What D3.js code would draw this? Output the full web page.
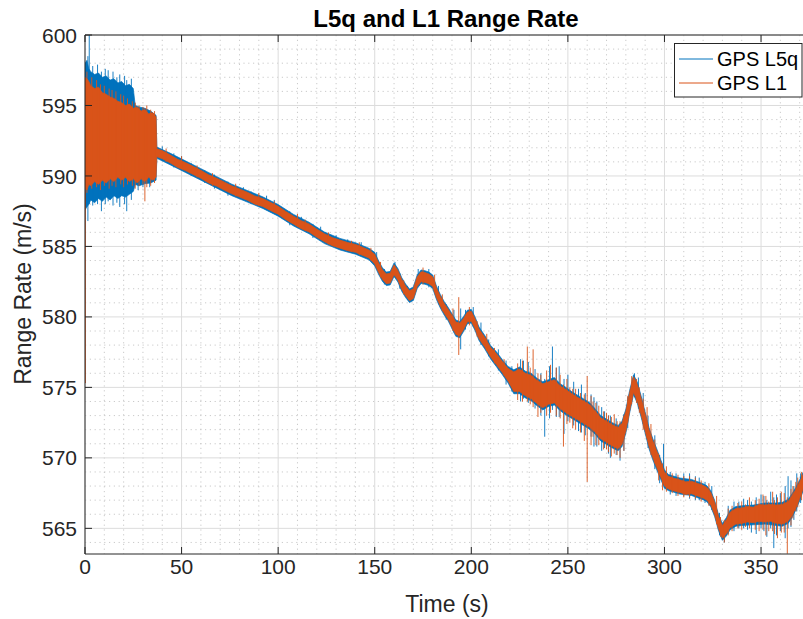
<!DOCTYPE html>
<html>
<head>
<meta charset="utf-8">
<script src="https://cdn.jsdelivr.net/npm/d3@7"></script>
<style>
  html, body { margin: 0; padding: 0; background: #fff; }
  svg { display: block; font-family: "Liberation Sans", Arial, Helvetica, sans-serif; }
</style>
</head>
<body>
<script>
// ---------------- data ----------------
const title = "L5q and L1 Range Rate";
const xLabel = "Time (s)";
const yLabel = "Range Rate (m/s)";
const seriesNames = ["GPS L5q", "GPS L1"];
const xTicks = [0, 50, 100, 150, 200, 250, 300, 350];
const yTicks = [565, 570, 575, 580, 585, 590, 595, 600];

// noise envelope of GPS L5q: [time s, low m/s, high m/s]
const l5qBand = [
  [0, 587.6, 598.0], [1, 587.8, 598.2], [2, 588.0, 597.6], [3, 588.3, 597.4], [5, 588.1, 597.2],
  [7, 588.4, 597.3], [9, 588.2, 597.0], [11, 588.5, 597.1], [13, 588.3, 596.8], [15, 588.6, 596.9],
  [17, 588.4, 596.6], [19, 588.6, 596.7], [21, 588.5, 596.4], [23, 588.7, 596.5], [25, 588.9, 596.2],
  [26, 589.4, 595.0], [28, 589.3, 594.9], [31, 589.45, 594.8], [34, 589.5, 594.6], [36.8, 589.7, 594.3],
  [37.2, 591.25, 592.05], [44, 590.80, 591.62], [52, 590.25, 591.07], [60, 589.70, 590.52], [68, 589.15, 589.97],
  [76, 588.60, 589.42], [84, 588.15, 588.97], [92, 587.70, 588.52], [100, 587.15, 587.97], [108, 586.45, 587.27],
  [116, 585.90, 586.72], [124, 585.20, 586.02], [132, 584.75, 585.57], [140, 584.45, 585.27], [147, 584.05, 584.87],
  [150, 583.62, 584.58], [152, 583.02, 583.98], [154, 582.52, 583.48], [156, 582.22, 583.18], [158, 582.27, 583.23],
  [160, 582.87, 583.83], [162, 582.47, 583.43], [164, 581.82, 582.78], [166, 581.37, 582.33], [168, 581.02, 581.98],
  [170, 581.17, 582.13], [172, 582.02, 582.98], [174, 582.37, 583.33], [176, 582.32, 583.28], [178, 582.22, 583.18],
  [180, 582.02, 582.98], [182, 581.22, 582.18], [184, 580.62, 581.58], [186, 580.12, 581.08], [188, 579.72, 580.68],
  [190, 579.17, 580.23], [192, 578.62, 579.78], [194, 578.52, 579.68], [196, 578.97, 580.03], [198, 579.52, 580.48],
  [200, 579.57, 580.53], [202, 579.02, 579.98], [204, 578.32, 579.28], [207, 577.72, 578.68], [210, 577.02, 577.98],
  [213, 576.47, 577.53], [216, 575.92, 576.98], [219, 575.32, 576.48], [222, 574.55, 576.25], [225, 574.55, 576.45],
  [228, 574.25, 576.15], [231, 574.05, 576.00], [234, 573.70, 575.65], [237, 573.40, 575.40], [240, 573.65, 575.55],
  [243, 573.75, 575.70], [246, 573.35, 575.25], [249, 573.05, 575.00], [252, 572.80, 574.70], [255, 572.55, 574.45],
  [258, 572.30, 574.20], [261, 572.05, 573.95], [264, 571.70, 573.50], [267, 571.20, 573.00], [270, 570.95, 572.75],
  [273, 570.70, 572.50], [276, 570.50, 572.30], [278, 570.80, 572.60], [280, 571.75, 573.45], [282, 573.20, 574.80],
  [284, 574.50, 575.90], [286, 573.85, 575.35], [288, 572.85, 574.35], [290, 571.75, 573.25], [292, 570.65, 572.15],
  [294, 569.85, 571.35], [296, 569.15, 570.65], [298, 568.50, 569.90], [300, 567.85, 569.15], [302, 567.68, 568.82],
  [308, 567.43, 568.57], [314, 567.33, 568.47], [320, 567.03, 568.17], [322, 566.88, 568.02], [324, 566.53, 567.67],
  [326, 565.83, 566.97], [328, 564.83, 565.97], [330, 564.15, 565.35], [332, 564.45, 565.75], [334, 564.90, 566.30],
  [337, 565.15, 566.55], [340, 565.20, 566.60], [346, 565.25, 566.65], [352, 565.30, 566.80], [358, 565.20, 566.80],
  [361, 565.15, 566.85], [364, 565.35, 567.05], [366, 565.75, 567.45], [368, 566.30, 567.90], [370, 566.95, 568.45],
  [372, 567.75, 569.05]
];

// individual outlier samples of GPS L5q: [time s, low, high]
const l5qSpikes = [
  [1.5, 586.8, 598.5], [2.2, 588.0, 600.0], [4, 587.9, 597.8], [6.5, 588.0, 597.9], [8.5, 587.5, 597.4],
  [10.5, 588.0, 597.6], [12, 588.2, 597.5], [14.5, 587.9, 597.4], [16.5, 588.1, 597.0], [18, 587.8, 597.2],
  [20.5, 588.0, 597.1], [21.6, 587.5, 596.8], [24, 588.3, 596.9], [27.5, 589.0, 594.5], [30, 589.2, 594.4],
  [33.5, 589.2, 594.2], [40, 591.1, 592.1], [46, 590.6, 591.6], [50, 590.5, 591.4], [55, 590.0, 590.9],
  [62, 589.5, 590.4], [67, 589.1, 590.1], [74, 588.6, 589.6], [82, 588.3, 589.2], [86, 588.0, 588.9],
  [94, 587.6, 588.6], [98, 587.4, 588.3], [106, 586.5, 587.5], [112, 586.2, 587.1], [118, 585.6, 586.6],
  [122, 585.4, 586.4], [130, 584.9, 585.8], [136, 584.6, 585.5], [143, 584.3, 585.3], [151, 583.4, 584.6],
  [155, 582.3, 583.4], [160.5, 582.8, 583.9], [163, 582.0, 583.1], [167, 581.2, 582.2], [172.5, 582.2, 583.4],
  [178, 582.1, 583.4], [183, 580.9, 582.2], [187, 579.8, 580.9], [191, 578.9, 580.5], [194.5, 577.7, 580.6],
  [197, 579.1, 580.5], [201, 579.3, 580.7], [205, 578.0, 579.6], [209, 577.2, 578.4], [214, 576.2, 577.7],
  [218, 575.2, 576.9], [221, 574.7, 576.5], [225.5, 574.0, 577.0], [227, 574.2, 576.9], [229.5, 573.9, 576.8],
  [233, 573.5, 576.3], [236, 573.0, 576.0], [238, 571.5, 575.6], [240.5, 572.8, 576.5], [242, 573.4, 577.9],
  [244, 572.9, 576.4], [245.5, 572.9, 576.5], [248, 571.7, 575.6], [250, 572.6, 575.9], [253, 572.3, 575.4],
  [255.5, 571.9, 574.9], [257, 571.8, 575.2], [259, 571.6, 574.6], [262, 571.5, 574.5], [263.5, 570.8, 574.3],
  [265, 570.8, 574.0], [267.5, 570.5, 573.6], [269, 570.7, 573.3], [271, 570.3, 573.0], [272, 570.0, 573.0],
  [275, 570.2, 572.8], [277, 569.8, 572.4], [279, 570.5, 573.1], [281, 572.1, 574.3], [284.5, 574.3, 576.0],
  [286.5, 573.5, 575.7], [289, 572.4, 574.6], [291.5, 570.7, 573.0], [295, 569.2, 571.6], [297.5, 568.2, 570.2],
  [299.5, 568.3, 571.0], [303, 567.4, 569.0], [306, 567.3, 568.9], [310, 567.3, 568.9], [313, 567.1, 568.9],
  [316, 567.0, 568.7], [318, 567.0, 568.6], [321, 566.8, 568.3], [324.5, 566.3, 568.0], [328.5, 564.5, 566.1],
  [331, 564.0, 565.4], [333, 564.6, 566.6], [336, 564.8, 566.9], [338.5, 565.0, 566.9], [341, 565.0, 567.1],
  [343, 564.9, 567.0], [345, 564.7, 566.9], [347.5, 564.6, 567.2], [350, 565.0, 567.4], [351.5, 564.8, 567.3],
  [353, 564.4, 567.0], [355, 565.0, 567.6], [356.6, 563.6, 567.2], [358, 564.5, 567.4], [360, 564.8, 567.5],
  [362.5, 564.3, 568.0], [364, 565.0, 568.7], [365.5, 565.1, 568.4], [367, 565.6, 568.0], [368.5, 566.2, 568.9],
  [370.5, 566.8, 568.9]
];

// noise envelope of GPS L1: [time s, low m/s, high m/s]
const l1Band = [
  [0, 589.2, 597.0], [1, 589.0, 596.9], [2, 589.4, 596.7], [3, 589.3, 596.4], [5, 589.6, 596.2],
  [7, 589.4, 596.3], [9, 589.7, 595.9], [11, 589.5, 595.8], [13, 589.8, 595.6], [15, 589.6, 595.5],
  [17, 589.9, 595.3], [19, 589.7, 595.2], [21, 589.9, 595.0], [23, 589.6, 595.1], [25, 589.8, 594.8],
  [27, 589.5, 594.9], [29, 589.8, 594.6], [31, 589.6, 594.7], [33, 589.9, 594.4], [35, 589.7, 594.5],
  [36.8, 589.9, 594.2], [37.2, 591.37, 591.93], [40, 591.22, 591.80], [44, 590.93, 591.50], [48, 590.60, 591.18],
  [52, 590.38, 590.95], [56, 590.10, 590.68], [60, 589.83, 590.40], [64, 589.50, 590.08], [68, 589.28, 589.85],
  [72, 589.00, 589.58], [76, 588.73, 589.30], [80, 588.50, 589.08], [84, 588.28, 588.85], [88, 588.00, 588.58],
  [92, 587.83, 588.40], [96, 587.55, 588.13], [100, 587.28, 587.85], [104, 586.90, 587.48], [108, 586.58, 587.15],
  [112, 586.25, 586.83], [116, 586.03, 586.60], [120, 585.65, 586.23], [124, 585.33, 585.90], [128, 585.05, 585.63],
  [132, 584.88, 585.45], [136, 584.70, 585.28], [140, 584.58, 585.15], [144, 584.35, 584.93], [147, 584.18, 584.75],
  [150, 583.75, 584.45], [152, 583.15, 583.85], [154, 582.65, 583.35], [156, 582.35, 583.05], [158, 582.40, 583.10],
  [160, 583.00, 583.70], [162, 582.60, 583.30], [164, 581.95, 582.65], [166, 581.50, 582.20], [168, 581.15, 581.85],
  [170, 581.30, 582.00], [172, 582.15, 582.85], [174, 582.50, 583.20], [176, 582.45, 583.15], [178, 582.35, 583.05],
  [180, 582.15, 582.85], [182, 581.35, 582.05], [184, 580.75, 581.45], [186, 580.25, 580.95], [188, 579.85, 580.55],
  [190, 579.30, 580.10], [192, 578.75, 579.65], [194, 578.65, 579.55], [196, 579.10, 579.90], [198, 579.65, 580.35],
  [200, 579.70, 580.40], [202, 579.15, 579.85], [204, 578.45, 579.15], [207, 577.85, 578.55], [210, 577.15, 577.85],
  [213, 576.60, 577.40], [216, 576.05, 576.85], [219, 575.45, 576.35], [222, 574.70, 576.10], [225, 574.70, 576.30],
  [228, 574.40, 576.00], [231, 574.20, 575.85], [234, 573.85, 575.50], [237, 573.55, 575.25], [240, 573.80, 575.40],
  [243, 573.90, 575.55], [246, 573.50, 575.10], [249, 573.20, 574.85], [252, 572.95, 574.55], [255, 572.70, 574.30],
  [258, 572.45, 574.05], [261, 572.20, 573.80], [264, 571.85, 573.35], [267, 571.35, 572.85], [270, 571.10, 572.60],
  [273, 570.85, 572.35], [276, 570.65, 572.15], [278, 570.95, 572.45], [280, 571.90, 573.30], [282, 573.35, 574.65],
  [284, 574.65, 575.75], [286, 574.00, 575.20], [288, 573.00, 574.20], [290, 571.90, 573.10], [292, 570.80, 572.00],
  [294, 570.00, 571.20], [296, 569.30, 570.50], [298, 568.65, 569.75], [300, 568.00, 569.00], [302, 567.80, 568.70],
  [305, 567.65, 568.55], [308, 567.55, 568.45], [311, 567.40, 568.30], [314, 567.45, 568.35], [317, 567.30, 568.20],
  [320, 567.15, 568.05], [322, 567.00, 567.90], [324, 566.65, 567.55], [326, 565.95, 566.85], [328, 564.95, 565.85],
  [330, 564.30, 565.20], [332, 564.60, 565.60], [334, 565.05, 566.15], [337, 565.30, 566.40], [340, 565.35, 566.45],
  [343, 565.45, 566.55], [346, 565.40, 566.50], [349, 565.50, 566.70], [352, 565.45, 566.65], [355, 565.50, 566.70],
  [358, 565.35, 566.65], [361, 565.30, 566.70], [364, 565.50, 566.90], [366, 565.90, 567.30], [368, 566.45, 567.75],
  [370, 567.10, 568.30], [372, 567.90, 568.90]
];

// individual outlier samples of GPS L1: [time s, low, high]
const l1Spikes = [
  [0.2, 575.3, 592.0], [1, 588.8, 597.4], [3.5, 589.1, 597.0], [6, 589.2, 596.8], [8, 589.0, 596.5],
  [10, 589.3, 596.4], [12.5, 589.1, 596.2], [14, 589.3, 596.1], [16, 589.2, 596.0], [18.5, 589.4, 595.8],
  [20, 589.2, 595.7], [22, 589.4, 595.5], [24.5, 589.3, 595.3], [26, 589.1, 595.2], [28, 589.3, 595.0],
  [30, 589.4, 594.9], [31, 588.2, 594.8], [32, 589.2, 595.0], [34, 589.3, 594.7], [36, 589.5, 594.6],
  [42, 591.0, 591.95], [50, 590.5, 591.4], [58, 589.9, 590.75], [66, 589.3, 590.2], [78, 588.55, 589.45],
  [90, 587.9, 588.8], [98, 587.4, 588.2], [110, 586.4, 587.3], [114, 586.1, 586.9], [126, 585.15, 586.0],
  [138, 584.6, 585.4], [142, 584.4, 585.3], [148, 584.0, 584.9], [153, 582.8, 583.9], [165, 581.6, 582.6],
  [175, 582.3, 583.5], [181, 581.8, 583.0], [185, 580.4, 581.6], [190.5, 579.0, 580.6], [193.5, 577.3, 581.4],
  [199, 579.4, 580.7], [203, 578.6, 579.7], [208, 577.6, 578.8], [212, 576.7, 577.8], [217, 575.8, 577.0],
  [224, 574.1, 576.7], [226.5, 574.0, 576.9], [229, 574.0, 577.9], [230.5, 573.8, 576.4], [232, 573.6, 577.7],
  [234.5, 572.9, 576.0], [236, 573.2, 575.9], [239, 573.0, 576.2], [241, 573.2, 576.6], [244, 573.0, 576.4],
  [246, 572.8, 575.9], [247.7, 570.8, 575.2], [249.5, 572.4, 575.6], [251, 572.5, 575.0], [252.5, 572.1, 574.9],
  [254, 572.0, 574.9], [256.5, 571.8, 574.6], [258.5, 571.2, 574.5], [260, 568.3, 575.8], [262, 570.9, 574.4],
  [263, 571.5, 574.0], [264.5, 570.9, 573.9], [266, 570.9, 573.7], [268.5, 570.6, 573.3], [270, 570.6, 573.2],
  [271, 570.4, 573.0], [272.5, 570.1, 572.9], [274, 570.3, 573.1], [275.5, 570.2, 572.6], [277, 570.0, 572.6],
  [279, 570.5, 573.0], [281, 572.5, 574.4], [283, 573.8, 575.8], [285.5, 573.9, 575.6], [287, 573.2, 575.0],
  [289, 572.0, 574.2], [291, 571.4, 573.6], [293, 570.2, 572.4], [295, 569.6, 571.3], [297, 568.4, 570.3],
  [299, 567.7, 569.6], [301, 567.6, 569.4], [304, 567.5, 568.9], [307, 567.3, 568.8], [310, 567.2, 568.7],
  [313, 567.2, 568.7], [316, 567.1, 568.6], [319, 566.9, 568.4], [323, 566.6, 568.2], [327, 565.3, 567.3],
  [329, 564.4, 565.8], [331, 564.0, 565.6], [333, 564.5, 566.4], [335, 564.8, 566.6], [338, 565.0, 566.8],
  [340, 564.9, 566.9], [342, 565.1, 566.7], [344, 565.0, 567.2], [347, 564.9, 567.0], [349, 564.8, 567.1],
  [351, 564.9, 567.4], [352.5, 564.5, 567.3], [354, 564.8, 566.9], [356, 564.8, 567.6], [357, 564.6, 567.0],
  [358.5, 564.3, 567.2], [360.5, 564.7, 567.6], [362, 564.7, 567.5], [363.6, 563.2, 567.2], [365.5, 565.2, 567.8],
  [366.5, 565.7, 568.0], [368, 566.2, 568.3], [369, 566.5, 568.6], [371, 567.0, 569.0]
];

// ---------------- drawing ----------------
const W = 803, H = 619;
const pLeft = 85, pRight = 804.5, pTop = 35, pBottom = 554;
const colors = ["#0072BD", "#D95319"];
const ink = "#262626";

const svg = d3.select("body").append("svg").attr("width", W).attr("height", H);

const x = d3.scaleLinear().domain([0, 372.5]).range([pLeft, pRight]);
const y = d3.scaleLinear().domain([563.18, 600]).range([pBottom, pTop]);

svg.append("rect").attr("x", pLeft).attr("y", pTop)
  .attr("width", pRight - pLeft).attr("height", pBottom - pTop).attr("fill", "#fff");

// grid
const gGrid = svg.append("g");
const xMinor = d3.range(10, 372, 10).filter(v => v % 50 !== 0);
const yMinor = d3.range(564, 600, 1).filter(v => v % 5 !== 0);
gGrid.selectAll(".xm").data(xMinor).join("line")
  .attr("x1", d => x(d)).attr("x2", d => x(d)).attr("y1", pTop).attr("y2", pBottom)
  .attr("stroke", "#bdbdbd").attr("stroke-width", 0.8).attr("stroke-dasharray", "1.2,3.6");
gGrid.selectAll(".ym").data(yMinor).join("line")
  .attr("y1", d => y(d)).attr("y2", d => y(d)).attr("x1", pLeft).attr("x2", pRight)
  .attr("stroke", "#bdbdbd").attr("stroke-width", 0.8).attr("stroke-dasharray", "1.2,3.6");
gGrid.selectAll(".xM").data(xTicks).join("line")
  .attr("x1", d => x(d)).attr("x2", d => x(d)).attr("y1", pTop).attr("y2", pBottom)
  .attr("stroke", "#dcdcdc").attr("stroke-width", 1);
gGrid.selectAll(".yM").data(yTicks).join("line")
  .attr("y1", d => y(d)).attr("y2", d => y(d)).attr("x1", pLeft).attr("x2", pRight)
  .attr("stroke", "#dcdcdc").attr("stroke-width", 1);

// clip
svg.append("clipPath").attr("id", "clip").append("rect")
  .attr("x", pLeft).attr("y", pTop).attr("width", pRight - pLeft).attr("height", pBottom - pTop);
const gData = svg.append("g").attr("clip-path", "url(#clip)");

const area = d3.area().x(d => x(d[0])).y0(d => y(d[1])).y1(d => y(d[2]));
const spike = d => `M${x(d[0])},${y(d[1])}V${y(d[2])}`;

[[l5qBand, l5qSpikes, colors[0]], [l1Band, l1Spikes, colors[1]]].forEach(([band, spikes, c]) => {
  gData.append("path").datum(band).attr("d", area)
    .attr("fill", c).attr("stroke", c).attr("stroke-width", 0.7).attr("stroke-linejoin", "round");
  gData.append("g").selectAll("path").data(spikes).join("path")
    .attr("d", spike).attr("stroke", c).attr("stroke-width", 0.9).attr("fill", "none");
});

// axes box
const gAx = svg.append("g").attr("stroke", ink).attr("stroke-width", 1).attr("fill", "none");
gAx.append("path").attr("d", `M${pRight},${pTop}H${pLeft}V${pBottom}H${pRight}`);
gAx.selectAll(".xt").data(xTicks).join("path")
  .attr("d", d => `M${x(d)},${pBottom}v-7M${x(d)},${pTop}v7`);
gAx.selectAll(".yt").data(yTicks).join("path")
  .attr("d", d => `M${pLeft},${y(d)}h7`);

// tick labels
svg.append("g").selectAll("text").data(xTicks).join("text")
  .attr("x", d => x(d)).attr("y", 574).attr("text-anchor", "middle")
  .attr("font-size", 21).attr("fill", ink).text(d => d);
svg.append("g").selectAll("text").data(yTicks).join("text")
  .attr("x", 77).attr("y", d => y(d)).attr("dy", "0.36em").attr("text-anchor", "end")
  .attr("font-size", 21).attr("fill", ink).text(d => d);

// labels
svg.append("text").attr("x", 447).attr("y", 611.5).attr("text-anchor", "middle")
  .attr("font-size", 23).attr("fill", ink).text(xLabel);
svg.append("text").attr("transform", "translate(31,294) rotate(-90)").attr("text-anchor", "middle")
  .attr("font-size", 23).attr("fill", ink).text(yLabel);
svg.append("text").attr("x", 446).attr("y", 27).attr("text-anchor", "middle")
  .attr("font-size", 24).attr("font-weight", "bold").attr("fill", "#000").text(title);

// legend
const lg = svg.append("g");
lg.append("rect").attr("x", 674.5).attr("y", 43.5).attr("width", 127.5).attr("height", 53.5)
  .attr("fill", "#fff").attr("stroke", ink).attr("stroke-width", 1);
seriesNames.forEach((name, i) => {
  const yy = 59 + i * 24;
  lg.append("line").attr("x1", 679).attr("x2", 713).attr("y1", yy).attr("y2", yy)
    .attr("stroke", colors[i]).attr("stroke-width", 1);
  lg.append("text").attr("x", 717).attr("y", yy).attr("dy", "0.36em")
    .attr("font-size", 20).attr("fill", "#000").text(name);
});
</script>
</body>
</html>
